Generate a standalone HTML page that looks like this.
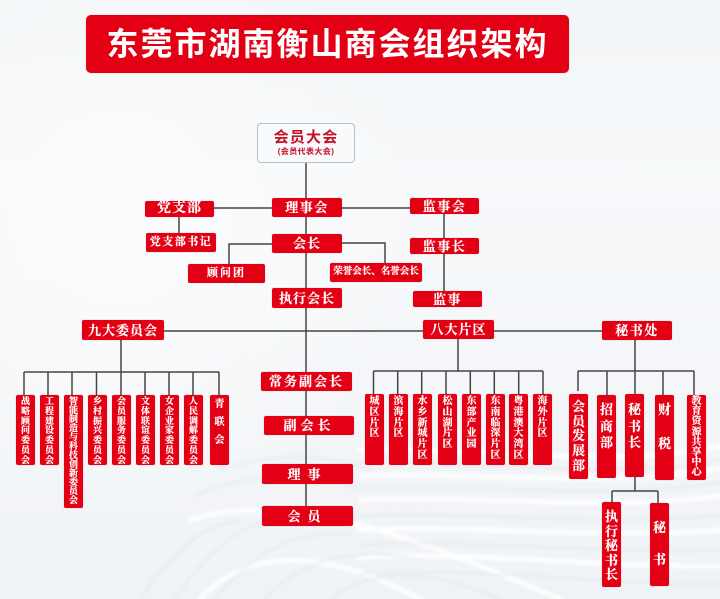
<!DOCTYPE html>
<html lang="zh"><head><meta charset="utf-8"><title>东莞市湖南衡山商会组织架构</title>
<style>
html,body{margin:0;padding:0;width:720px;height:599px;overflow:hidden;background:#f4f7f9}
#p{position:relative;width:720px;height:599px;overflow:hidden;font-family:"Liberation Serif","Noto Serif CJK SC",serif}
svg{position:absolute;left:0;top:0}
.b{position:absolute;background:#e30014;color:#fff;border-radius:2px;font-weight:700;display:flex;align-items:center;justify-content:center;white-space:nowrap;line-height:1;box-sizing:border-box;box-shadow:0 0 1px rgba(160,0,10,.35);-webkit-text-stroke:.2px #fff}
.v{position:absolute;background:#e30014;color:#fff;border-radius:2px;font-weight:700;text-align:center;box-sizing:border-box;width:19px;overflow:hidden;box-shadow:0 0 1px rgba(160,0,10,.35);-webkit-text-stroke:.2px #fff}
.v span{display:block;height:1em;line-height:1}
.c{font-size:9px}.c span{margin-bottom:.75px;height:9px}
.t span{margin-bottom:0}
.r{font-size:10px}.r span{margin-bottom:.8px;height:10px}
.k{font-size:13px}.k span{height:14px;line-height:14px}
</style></head><body><div id="p">
<svg width="720" height="599" viewBox="0 0 720 599">
<defs>
<linearGradient id="g" x1="0" y1="0" x2="0" y2="1"><stop offset="0" stop-color="#f2f5f7"/><stop offset=".3" stop-color="#f7f9fb"/><stop offset="1" stop-color="#f0f3f6"/></linearGradient>
<radialGradient id="w" cx="120" cy="220" r="300" gradientUnits="userSpaceOnUse"><stop offset="0" stop-color="#fbfcfd"/><stop offset="1" stop-color="#fbfcfd" stop-opacity="0"/></radialGradient>
<filter id="f" x="-5%" y="-20%" width="110%" height="140%"><feGaussianBlur stdDeviation="1.6"/></filter>
</defs>
<rect width="720" height="599" fill="url(#g)"/>
<rect width="720" height="599" fill="url(#w)"/>
<g fill="none" filter="url(#f)" stroke-linecap="round">
<g stroke="#ffffff" stroke-width="4">
<path d="M360 476C460 470 600 490 720 468"/><path d="M360 500C470 494 600 512 720 496"/><path d="M360 530C470 524 600 540 720 530"/>
<path d="M360 558C470 550 600 568 720 566"/><path d="M360 450C450 445 620 470 720 446"/>
<path d="M200 599C250 545 330 550 420 599"/>
<path d="M190 520C280 490 400 530 560 599"/>
</g>
<g stroke="#dfe4ea" stroke-width="1.4">
<path d="M360 488C470 482 600 502 720 482"/><path d="M360 516C470 510 600 528 720 515"/><path d="M360 545C470 538 600 555 720 550"/>
<path d="M360 574C470 566 600 585 720 584"/><path d="M360 462C450 458 620 482 720 460"/>
<path d="M140 599C180 540 210 525 240 520"/><path d="M175 599C215 540 250 520 290 515"/>
<path d="M215 599C260 545 300 530 350 535"/><path d="M265 599C300 560 350 545 420 560"/>
<path d="M330 599C370 570 420 565 500 599"/><path d="M195 495C260 470 310 470 360 490"/>
<path d="M220 470C280 450 330 455 370 470"/>
</g>
</g>
<g stroke="#454545" stroke-width="1.5" fill="none">
<path d="M306 163V526"/>
<path d="M214 208H410"/><path d="M179 217V233"/>
<path d="M272 244H229V264"/><path d="M342 243H385V263"/>
<path d="M444 214V291"/>
<path d="M164 331H602"/>
<path d="M121 340V395M24 372H219M24 372V395M48 372V395M72 372V395M96.500 372V395M145 372V395M169 372V395M193 372V395M219 372V395"/>
<path d="M458 339V371M373.500 371H543M373.500 371V394M397.700 371V394M421.700 371V394M446 371V394M470.300 371V394M494.300 371V394M518.700 371V394M543 371V394"/>
<path d="M635 340V394M578 371H694M578 371V391M607 371V395M663 371V395M694 371V395"/>
<path d="M635 477V491M612 491H658M612 491V503M658 491V503"/>
</g>
</svg>

<div class="b" style="left:86px;top:15px;width:483px;height:58px;border-radius:5px;font-family:'Liberation Sans','Noto Sans CJK SC',sans-serif;font-size:32px;letter-spacing:2px;-webkit-text-stroke:0">东莞市湖南衡山商会组织架构</div>

<div style="position:absolute;left:257px;top:123px;width:98px;height:40px;box-sizing:border-box;background:#f8fafb;border:1.5px solid #b9c0c4;border-radius:4px;text-align:center;color:#c5102a;font-weight:700;line-height:1">
<div style="font-size:15px;letter-spacing:1.2px;margin-top:6px;font-family:'Liberation Sans','Noto Sans CJK SC',sans-serif">会员大会</div>
<div style="font-size:8px;margin-top:3px;letter-spacing:.4px;font-family:'Liberation Sans','Noto Sans CJK SC',sans-serif">(会员代表大会)</div></div>

<div class="b" style="left:272px;top:198px;width:70px;height:19px;font-size:13px;letter-spacing:1.5px">理事会</div>
<div class="b" style="left:145px;top:201px;width:69px;height:16px;font-size:14px;letter-spacing:1px">党支部</div>
<div class="b" style="left:146px;top:233px;width:70px;height:19px;font-size:11px;letter-spacing:1.5px">党支部书记</div>
<div class="b" style="left:272px;top:234px;width:70px;height:19px;font-size:13px;letter-spacing:1px">会长</div>
<div class="b" style="left:188px;top:264px;width:77px;height:19px;font-size:11px;letter-spacing:2px">顾问团</div>
<div class="b" style="left:330px;top:263px;width:92px;height:19px;font-size:9.500px">荣誉会长、名誉会长</div>
<div class="b" style="left:272px;top:288px;width:70px;height:20px;font-size:13px;letter-spacing:1px">执行会长</div>
<div class="b" style="left:410px;top:198px;width:69px;height:16px;font-size:13px;letter-spacing:1.5px">监事会</div>
<div class="b" style="left:410px;top:238px;width:69px;height:16px;font-size:13px;letter-spacing:1.5px">监事长</div>
<div class="b" style="left:413px;top:291px;width:69px;height:16px;font-size:13px;letter-spacing:1.5px">监事</div>
<div class="b" style="left:82px;top:320px;width:82px;height:20px;font-size:13px;letter-spacing:1px">九大委员会</div>
<div class="b" style="left:423px;top:320px;width:71px;height:19px;font-size:13px;letter-spacing:1px">八大片区</div>
<div class="b" style="left:602px;top:321px;width:70px;height:19px;font-size:13px;letter-spacing:1.5px">秘书处</div>
<div class="b" style="left:261px;top:372px;width:91px;height:19px;font-size:13px;letter-spacing:2px">常务副会长</div>
<div class="b" style="left:264px;top:416px;width:90px;height:19px;font-size:13px;letter-spacing:4px">副会长</div>
<div class="b" style="left:262px;top:464px;width:91px;height:20px;font-size:13px;letter-spacing:7px">理事</div>
<div class="b" style="left:262px;top:506px;width:91px;height:20px;font-size:13px;letter-spacing:7px">会员</div>

<div class="v c" style="left:16px;top:395px;height:70px;padding-top:2px"><span>战</span><span>略</span><span>顾</span><span>问</span><span>委</span><span>员</span><span>会</span></div>
<div class="v c" style="left:40px;top:395px;height:70px;padding-top:2px"><span>工</span><span>程</span><span>建</span><span>设</span><span>委</span><span>员</span><span>会</span></div>
<div class="v c t" style="left:64px;top:395px;height:113px;padding-top:2px"><span>智</span><span>能</span><span>制</span><span>造</span><span>与</span><span>科</span><span>技</span><span>创</span><span>新</span><span>委</span><span>员</span><span>会</span></div>
<div class="v c" style="left:88px;top:395px;height:70px;padding-top:2px"><span>乡</span><span>村</span><span>振</span><span>兴</span><span>委</span><span>员</span><span>会</span></div>
<div class="v c" style="left:112px;top:395px;height:70px;padding-top:2px"><span>会</span><span>员</span><span>服</span><span>务</span><span>委</span><span>员</span><span>会</span></div>
<div class="v c" style="left:136px;top:395px;height:70px;padding-top:2px"><span>文</span><span>体</span><span>联</span><span>谊</span><span>委</span><span>员</span><span>会</span></div>
<div class="v c" style="left:160px;top:395px;height:70px;padding-top:2px"><span>女</span><span>企</span><span>业</span><span>家</span><span>委</span><span>员</span><span>会</span></div>
<div class="v c" style="left:184px;top:395px;height:70px;padding-top:2px"><span>人</span><span>民</span><span>调</span><span>解</span><span>委</span><span>员</span><span>会</span></div>
<div class="v" style="left:210px;top:395px;height:70px;padding-top:1px;font-size:10px"><span style="height:18px;line-height:18px">青</span><span style="height:18px;line-height:18px">联</span><span style="height:18px;line-height:18px">会</span></div>

<div class="v r" style="left:365px;top:394px;height:71px;padding-top:3px"><span>城</span><span>区</span><span>片</span><span>区</span></div>
<div class="v r" style="left:389px;top:394px;height:71px;padding-top:3px"><span>滨</span><span>海</span><span>片</span><span>区</span></div>
<div class="v r" style="left:413px;top:394px;height:71px;padding-top:3px"><span>水</span><span>乡</span><span>新</span><span>城</span><span>片</span><span>区</span></div>
<div class="v r" style="left:438px;top:394px;height:71px;padding-top:3px"><span>松</span><span>山</span><span>湖</span><span>片</span><span>区</span></div>
<div class="v r" style="left:462px;top:394px;height:71px;padding-top:3px"><span>东</span><span>部</span><span>产</span><span>业</span><span>园</span></div>
<div class="v r" style="left:486px;top:394px;height:71px;padding-top:3px"><span>东</span><span>南</span><span>临</span><span>深</span><span>片</span><span>区</span></div>
<div class="v r" style="left:509px;top:394px;height:71px;padding-top:3px"><span>粤</span><span>港</span><span>澳</span><span>大</span><span>湾</span><span>区</span></div>
<div class="v r" style="left:533px;top:394px;height:71px;padding-top:3px"><span>海</span><span>外</span><span>片</span><span>区</span></div>

<div class="v k" style="left:569px;top:394px;height:85px;padding-top:6px"><span style="margin-bottom:.7px">会</span><span style="margin-bottom:.7px">员</span><span style="margin-bottom:.7px">发</span><span style="margin-bottom:.7px">展</span><span>部</span></div>
<div class="v k" style="left:597px;top:395px;height:83px;padding-top:8px"><span style="margin-bottom:2.7px">招</span><span style="margin-bottom:2.7px">商</span><span>部</span></div>
<div class="v k" style="left:625px;top:394px;height:83px;padding-top:9px"><span style="margin-bottom:2.700px">秘</span><span style="margin-bottom:2.700px">书</span><span>长</span></div>
<div class="v k" style="left:655px;top:395px;height:85px;padding-top:8px"><span style="margin-bottom:20px">财</span><span>税</span></div>
<div class="v" style="left:687px;top:395px;height:85px;padding-top:2px;font-size:10px"><span style="margin-bottom:.2px">教</span><span style="margin-bottom:.2px">育</span><span style="margin-bottom:.2px">资</span><span style="margin-bottom:.2px">源</span><span style="margin-bottom:.2px">共</span><span style="margin-bottom:.2px">享</span><span style="margin-bottom:.2px">中</span><span>心</span></div>
<div class="v k" style="left:602px;top:502px;height:85px;padding-top:8px"><span style="margin-bottom:.6px">执</span><span style="margin-bottom:.6px">行</span><span style="margin-bottom:.6px">秘</span><span style="margin-bottom:.6px">书</span><span>长</span></div>
<div class="v k" style="left:650px;top:503px;height:83px;padding-top:18px"><span style="margin-bottom:18px">秘</span><span>书</span></div>
</div></body></html>
